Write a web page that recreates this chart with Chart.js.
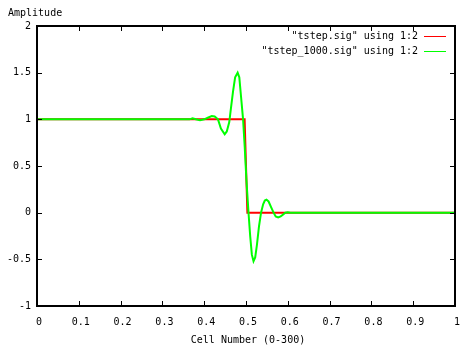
<!DOCTYPE html>
<html>
<head>
<meta charset="utf-8">
<script src="https://cdn.jsdelivr.net/npm/chart.js@4.4.0/dist/chart.umd.min.js"></script>
<style>
  html, body { margin: 0; padding: 0; background: #fff; }
  #wrap { width: 472px; height: 348px; }
</style>
</head>
<body>
<div id="wrap"><canvas id="chart" width="472" height="348"></canvas></div>
<script>
// tstep.sig - ideal step
const stepX = [0, 0.4967, 0.5, 0.5033, 0.606, 1];
const stepY = [1, 1, 0.5, 0, 0, 0];

// tstep_1000.sig - step after 1000 steps
const waveX = [0, 0.365, 0.372, 0.38, 0.39, 0.40, 0.41, 0.418, 0.425, 0.433, 0.44, 0.449,
  0.454, 0.46, 0.464, 0.469, 0.474, 0.48, 0.484, 0.488, 0.493, 0.497, 0.501, 0.506,
  0.51, 0.514, 0.518, 0.522, 0.526, 0.531, 0.536, 0.541, 0.545, 0.549, 0.554, 0.56,
  0.566, 0.571, 0.577, 0.583, 0.589, 0.594, 0.6, 0.606, 1];
const waveY = [1, 1, 1.01, 1.0, 0.99, 1.0, 1.02, 1.035, 1.03, 1.0, 0.9, 0.84,
  0.87, 0.97, 1.12, 1.3, 1.45, 1.5, 1.45, 1.25, 1.0, 0.7, 0.35, 0.0,
  -0.25, -0.45, -0.52, -0.48, -0.35, -0.15, 0.0, 0.09, 0.13, 0.14, 0.12, 0.06,
  0.0, -0.04, -0.05, -0.04, -0.02, 0.0, 0.005, 0, 0];

const xTicks = [0, 0.1, 0.2, 0.3, 0.4, 0.5, 0.6, 0.7, 0.8, 0.9, 1];
const yTicks = [-1, -0.5, 0, 0.5, 1, 1.5, 2];

const FONT = { family: 'DejaVu Sans Mono', size: 10 };

function toPoints(xs, ys) {
    return xs.map((x, i) => ({ x: x, y: ys[i] }));
}

// frame, mirrored inward ticks, titles and key
const gnuplotFrame = {
    id: 'gnuplotFrame',
    afterDraw(chart) {
        const ctx = chart.ctx;
        const a = chart.chartArea;
        const xs = chart.scales.x, ys = chart.scales.y;
        ctx.save();
        ctx.strokeStyle = '#000';
        ctx.lineWidth = 2;
        ctx.strokeRect(a.left, a.top, a.right - a.left, a.bottom - a.top);
        ctx.lineWidth = 1;
        ctx.beginPath();
        xTicks.forEach(v => {
            const px = Math.round(xs.getPixelForValue(v)) + 0.5;
            ctx.moveTo(px, a.bottom); ctx.lineTo(px, a.bottom - 5);
            ctx.moveTo(px, a.top); ctx.lineTo(px, a.top + 5);
        });
        yTicks.forEach(v => {
            const py = Math.round(ys.getPixelForValue(v)) + 0.5;
            ctx.moveTo(a.left, py); ctx.lineTo(a.left + 5, py);
            ctx.moveTo(a.right, py); ctx.lineTo(a.right - 5, py);
        });
        ctx.stroke();

        ctx.fillStyle = '#000';
        ctx.font = FONT.size + 'px ' + FONT.family;
        ctx.textBaseline = 'middle';
        ctx.textAlign = 'left';
        ctx.fillText('Amplitude', 8, 13);
        ctx.textAlign = 'center';
        ctx.fillText('Cell Number (0-300)', (a.left + a.right) / 2 + 2, 340);

        // key
        chart.data.datasets.forEach((ds, i) => {
            const y = 36 + i * 15;
            ctx.textAlign = 'right';
            ctx.fillStyle = '#000';
            ctx.fillText(ds.label, 418, y);
            ctx.strokeStyle = ds.borderColor;
            ctx.beginPath();
            ctx.moveTo(424, y + 0.5);
            ctx.lineTo(446, y + 0.5);
            ctx.stroke();
        });
        ctx.restore();
    }
};

new Chart(document.getElementById('chart'), {
    type: 'line',
    data: {
        datasets: [
            {
                label: '"tstep.sig" using 1:2',
                data: toPoints(stepX, stepY),
                borderColor: '#ff0000',
                borderWidth: 2,
                pointRadius: 0,
                tension: 0,
                order: 1
            },
            {
                label: '"tstep_1000.sig" using 1:2',
                data: toPoints(waveX, waveY),
                borderColor: '#00ff00',
                borderWidth: 2,
                pointRadius: 0,
                tension: 0,
                order: 0
            }
        ]
    },
    options: {
        responsive: false,
        animation: false,
        layout: { padding: { top: 26, right: 17, left: 0, bottom: 0 } },
        plugins: {
            legend: { display: false },
            tooltip: { enabled: false }
        },
        scales: {
            x: {
                type: 'linear',
                min: 0,
                max: 1,
                afterBuildTicks: scale => { scale.ticks = xTicks.map(v => ({ value: v })); },
                afterFit: scale => { scale.height = 42; },
                grid: { display: false, drawTicks: false },
                border: { display: false },
                ticks: {
                    font: FONT,
                    color: '#000',
                    padding: 10,
                    labelOffset: 2,
                    maxRotation: 0,
                    autoSkip: false,
                    callback: v => String(v)
                }
            },
            y: {
                type: 'linear',
                min: -1,
                max: 2,
                afterBuildTicks: scale => { scale.ticks = yTicks.map(v => ({ value: v })); },
                afterFit: scale => { scale.width = 37; },
                grid: { display: false, drawTicks: false },
                border: { display: false },
                ticks: {
                    font: FONT,
                    color: '#000',
                    padding: 6,
                    autoSkip: false,
                    callback: v => String(v)
                }
            }
        }
    },
    plugins: [gnuplotFrame]
});
</script>
</body>
</html>
